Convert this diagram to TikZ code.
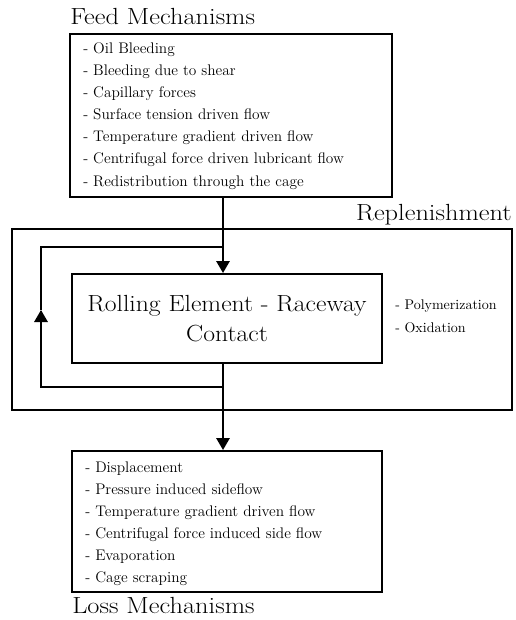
\documentclass[tikz,border=0pt]{standalone}
\usetikzlibrary{arrows.meta}
\begin{document}
\begin{tikzpicture}[x=0.75pt,y=-0.75pt,
  box/.style={draw,line width=1.5pt,inner sep=0pt},
  conn/.style={line width=1.5pt},
  arr/.style={conn,-{Triangle[length=9pt,width=10pt]}},
  title/.style={font=\fontsize{17.5}{20}\selectfont,inner sep=0pt,anchor=base west,transform shape,xscale=1.13},
  item/.style={font=\fontsize{11.5}{16.5}\selectfont,inner sep=0pt,anchor=base west},
  side/.style={font=\fontsize{10.5}{17}\selectfont,inner sep=0pt,anchor=base west}]
\useasboundingbox (0,0) rectangle (516,620);
% boxes
\node[box,minimum width=322*0.75pt,minimum height=163*0.75pt] (feed) at (231,115.5) {};
\node[box,minimum width=500*0.75pt,minimum height=181*0.75pt] (rep) at (262,319.5) {};
\node[box,minimum width=310*0.75pt,minimum height=89*0.75pt] (ctr) at (227,318.5) {};
\node[box,minimum width=310*0.75pt,minimum height=141*0.75pt] (loss) at (227,521.5) {};
% titles
\node[title] (tfeed) at (70,25) {Feed Mechanisms};
\node[title,anchor=base east] (trep) at (512,220) {Replenishment};
\node[title] (tloss) at (72,613) {Loss Mechanisms};
% feed list
\foreach \t [count=\i] in {- Oil Bleeding,- Bleeding due to shear,- Capillary forces,- Surface tension driven flow,- Temperature gradient driven flow,- Centrifugal force driven lubricant flow,- Redistribution through the cage}
  \node[item] (f\i) at (83,{54+22*(\i-1)}) {\t};
% center text
\node[font=\fontsize{17.5}{22.5}\selectfont,align=center,inner sep=0pt,transform shape,xscale=1.1] (tctr) at (ctr.center) {Rolling Element - Raceway\\Contact};
% side
\node[side] (s1) at (395,309) {- Polymerization};
\node[side] (s2) at (395,332) {- Oxidation};
% loss list
\foreach \t [count=\i] in {- Displacement,- Pressure induced sideflow,- Temperature gradient driven flow,- Centrifugal force induced side flow,- Evaporation,- Cage scraping}
  \node[item] (l\i) at (85,{472+22*(\i-1)}) {\t};
% connectors
\coordinate (ax) at (223,0);
\coordinate (lb) at (41,387);
\coordinate (lm) at (41,310);
\coordinate (lt) at (41,247);
\draw[arr] (feed.south -| ax) -- (ctr.north -| ax);
\draw[arr] (ctr.south -| ax) -- (loss.north -| ax);
\draw[conn] (lb -| ax) -- (lb) -- ([yshift=-0.75pt]lm);
\draw[arr] (lb) -- (lm);
\draw[conn] (lm) -- (lt) -- (lt -| ax);
\end{tikzpicture}
\end{document}
